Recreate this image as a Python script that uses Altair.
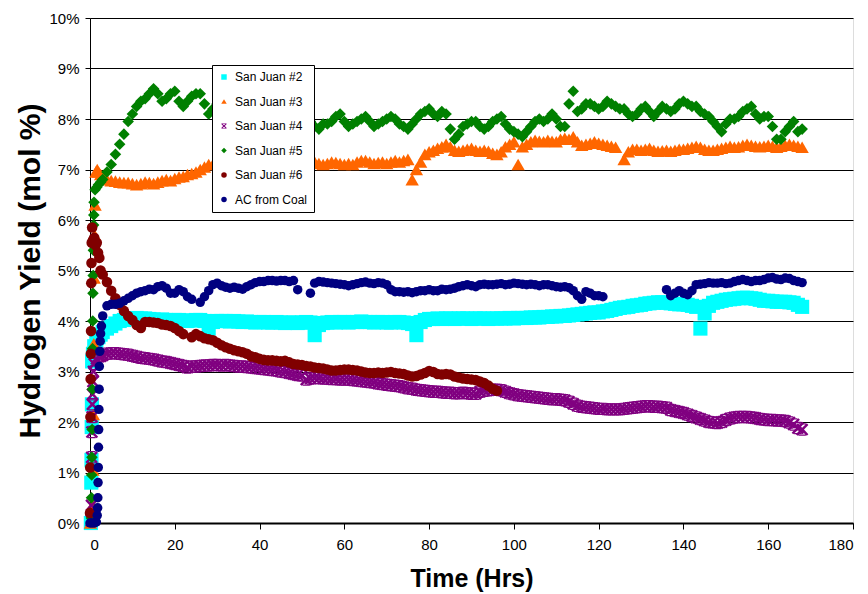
import altair as alt
import pandas as pd

SERIES = ["San Juan #2", "San Juan #3", "San Juan #4", "San Juan #5", "San Juan #6", "AC from Coal"]
COLORS = ["#00FFFF", "#FF6600", "#800080", "#008000", "#800000", "#000080"]
STAR = ("M-1,-0.75L-0.75,-1L0,-0.3L0.75,-1L1,-0.75L0.3,0L1,0.75L0.75,1L0,0.3L-0.75,1L-1,0.75L-0.3,0Z"
        "M-0.6,-1H0.6V-0.8H-0.6Z M-0.6,0.8H0.6V1H-0.6Z")
SHAPES = ["square", "triangle-up", STAR, "diamond", "circle", "circle"]
SIZES = [200, 90, 170, 125, 100, 90]

# start-up readings (hours, mol %)
early_t = {
    "San Juan #2": [0.2, 0.3, 0.35, 0.4, 0.45, 0.5, 0.7, 1.0, 1.5, 2.0, 2.5],
    "San Juan #3": [0.1, 0.5, 0.6, 0.7, 0.8, 0.9, 1.0, 1.1, 1.2, 1.4, 1.7, 2.0, 2.5],
    "San Juan #4": [0.3, 0.35, 0.4, 0.45, 0.5, 0.55, 0.6, 0.7, 0.8, 1.0, 1.5, 2.0, 2.5],
    "San Juan #5": [0.3, 0.35, 0.4, 0.45, 0.5, 0.55, 0.6, 0.65, 0.7, 0.75, 0.8, 0.85, 0.9, 0.95, 1.2, 1.6, 2.0, 2.5],
    "San Juan #6": [0.0, 0.05, 0.1, 0.15, 0.2, 0.25, 0.3, 0.35, 0.4, 0.5, 0.7, 1.0, 1.3, 1.6, 1.9, 2.2, 2.5],
    "AC from Coal": [0.0, 0.5, 1.0, 1.5, 1.7, 1.8, 1.85, 1.9, 1.95, 2.0, 2.05, 2.1, 2.15, 2.2, 2.3, 2.4, 2.5, 2.7],
}
early_v = {
    "San Juan #2": [0.0, 0.8, 1.25, 1.9, 2.35, 3.2, 3.35, 3.5, 3.6, 3.68, 3.73],
    "San Juan #3": [0.0, 0.1, 0.35, 1.05, 2.15, 3.55, 4.85, 5.7, 6.3, 6.95, 7.0, 6.95, 6.9],
    "San Juan #4": [0.05, 0.35, 1.3, 1.8, 2.1, 2.35, 2.55, 2.8, 3.0, 3.15, 3.25, 3.3, 3.3],
    "San Juan #5": [0.1, 0.5, 0.95, 1.3, 1.85, 2.65, 3.45, 4.0, 4.55, 4.9, 5.4, 5.9, 6.1, 6.35, 6.6, 6.65, 6.7, 6.75],
    "San Juan #6": [0.2, 1.1, 2.1, 2.85, 3.35, 3.8, 4.75, 5.15, 5.55, 5.85, 5.6, 5.65, 5.5, 5.55, 5.35, 5.25, 5.0],
    "AC from Coal": [0.0, 0.0, 0.0, 0.02, 0.15, 0.3, 0.5, 0.8, 1.1, 1.5, 1.85, 2.25, 2.65, 3.1, 3.4, 3.6, 3.75, 3.9],
}

# hourly readings from hour 3 onward (None = no data)
sj2 = [3.78, 3.85, 3.9, 3.95, 4.0, 4.02, 4.04, 4.05, 4.06, 4.05,
       4.05, 4.04, 4.03, 4.02, 4.03, 4.02, 4.01, 4.02, 4.02, 4.01,
       4.0, 4.01, 4.02, 4.02, 4.0, 3.85, 3.98, 4.0, 4.0, 4.0,
       3.99, 4.0, 3.99, 3.98, 3.99, 3.98, 3.97, 3.98, 3.98, 3.97,
       3.97, 3.98, 3.97, 3.96, 3.97, 3.97, 3.96, 3.97, 3.98, 3.97,
       3.72, 3.92, 3.96, 3.97, 3.98, 3.97, 3.98, 3.98, 3.97, 3.98,
       3.98, 3.99, 3.98, 3.98, 3.97, 3.98, 3.98, 3.97, 3.97, 3.98,
       3.98, 3.97, 3.96, 3.94, 3.72, 3.98, 4.02, 4.04, 4.04, 4.05,
       4.04, 4.05, 4.05, 4.04, 4.05, 4.05, 4.05, 4.04, 4.05, 4.05,
       4.05, 4.04, 4.05, 4.05, 4.05, 4.05, 4.06, 4.05, 4.06, 4.06,
       4.06, 4.07, 4.07, 4.07, 4.08, 4.08, 4.09, 4.09, 4.1, 4.1,
       4.11, 4.12, 4.13, 4.14, 4.15, 4.16, 4.17, 4.17, 4.19, 4.2,
       4.22, 4.24, 4.26, 4.27, 4.28, 4.3, 4.31, 4.32, 4.34, 4.35,
       4.36, 4.37, 4.37, 4.36, 4.35, 4.34, 4.33, 4.33, 4.32, 4.3,
       4.28, 3.85, 4.15, 4.3, 4.36, 4.38, 4.4, 4.42, 4.43, 4.44,
       4.45, 4.46, 4.46, 4.45, 4.44, 4.42, 4.4, 4.4, 4.39, 4.38,
       4.38, 4.38, 4.37, 4.36, 4.32, 4.28]
sj3 = [6.85, 6.8, 6.78, 6.77, 6.75, 6.74, 6.74, 6.72, 6.7, 6.72,
       6.75, 6.74, 6.72, 6.75, 6.78, 6.8, 6.78, 6.82, 6.85, 6.86,
       6.9, 6.92, 6.95, 7.0, 7.05, 7.1, 7.1, 7.12, 7.15, 7.15,
       7.12, 7.15, 7.18, 7.15, 7.12, 7.15, 7.18, 7.2, 7.18, 7.15,
       7.12, 7.15, 7.18, 7.2, 7.18, 7.15, 7.15, 7.18, 7.2, 7.18,
       7.15, 7.12, 7.1, 7.12, 7.15, 7.14, 7.12, 7.1, 7.12, 7.1,
       7.15, 7.18, 7.18, 7.15, 7.12, 7.14, 7.15, 7.12, 7.15, 7.18,
       7.15, 7.18, 7.2, 6.8, 7.0, 7.15, 7.3, 7.35, 7.38, 7.42,
       7.45, 7.5, 7.45, 7.38, 7.36, 7.38, 7.4, 7.42, 7.38, 7.36,
       7.38, 7.36, 7.32, 7.3, 7.35, 7.45, 7.5, 7.55, 7.1, 7.45,
       7.5, 7.55, 7.58, 7.56, 7.55, 7.58, 7.56, 7.55, 7.6, 7.62,
       7.6, 7.65, 7.55, 7.48, 7.5, 7.52, 7.55, 7.52, 7.5, 7.48,
       7.46, 7.44, None, 7.2, 7.35, 7.4, 7.4, 7.38, 7.4, 7.42,
       7.38, 7.36, 7.37, 7.38, 7.36, 7.38, 7.4, 7.4, 7.42, 7.44,
       7.46, 7.44, 7.4, 7.38, 7.38, 7.4, 7.42, 7.44, 7.46, 7.44,
       7.45, 7.48, 7.5, 7.48, 7.46, 7.45, 7.46, 7.48, 7.46, 7.44,
       7.46, 7.48, 7.5, 7.48, 7.46, 7.44]
sj4 = [3.32, 3.35, 3.36, 3.36, 3.35, 3.34, 3.33, 3.31, 3.29, 3.27,
       3.26, 3.25, 3.24, 3.22, 3.2, 3.19, 3.17, 3.15, 3.13, 3.11,
       3.08, 3.1, 3.1, 3.11, 3.12, 3.12, 3.13, 3.13, 3.12, 3.13,
       3.12, 3.11, 3.1, 3.1, 3.09, 3.08, 3.07, 3.06, 3.05, 3.04,
       3.03, 3.02, 3.0, 2.99, 2.97, 2.95, 2.93, 2.92, 2.84, 2.86,
       2.87, 2.87, 2.86, 2.86, 2.85, 2.85, 2.84, 2.84, 2.84, 2.83,
       2.82, 2.81, 2.8, 2.79, 2.78, 2.76, 2.75, 2.74, 2.73, 2.72,
       2.71, 2.69, 2.67, 2.66, 2.64, 2.63, 2.62, 2.61, 2.6, 2.6,
       2.59, 2.58, 2.58, 2.57, 2.57, 2.58, 2.57, 2.56, 2.56, 2.6,
       2.62, 2.63, 2.64, 2.64, 2.63, 2.6, 2.57, 2.55, 2.53, 2.52,
       2.51, 2.5, 2.49, 2.48, 2.47, 2.46, 2.45, 2.45, 2.44, 2.43,
       2.4, 2.36, 2.32, 2.3, 2.29, 2.28, 2.27, 2.26, 2.26, 2.25,
       2.25, 2.25, 2.25, 2.26, 2.27, 2.28, 2.29, 2.3, 2.31, 2.31,
       2.3, 2.3, 2.29, 2.28, 2.24, 2.22, 2.2, 2.18, 2.15, 2.12,
       2.09, 2.06, 2.03, 2.0, 1.99, 1.98, 2.0, 2.04, 2.07, 2.09,
       2.1, 2.1, 2.1, 2.09, 2.08, 2.06, 2.05, 2.04, 2.04, 2.03,
       2.03, 2.02, 1.99, 1.95, 1.88, 1.85]
sj5 = [6.8, 6.95, 7.1, 7.3, 7.5, 7.7, 7.95, 8.1, 8.25, 8.35,
       8.4, 8.5, 8.6, 8.5, 8.35, 8.4, 8.5, 8.55, 8.35, 8.25,
       8.35, 8.45, 8.5, 8.5, 8.3, 8.1, 8.2, 8.3, 8.35, 8.2,
       8.1, 8.25, 8.3, 8.15, 8.05, 8.2, 8.3, 8.1, 8.0, 8.15,
       8.25, 8.05, 7.95, 8.1, 8.15, 7.95, 7.9, 8.05, 8.0, 7.95,
       7.85, 7.8, 7.9, 7.9, 7.95, 8.05, 8.1, 7.95, 7.85, 7.9,
       7.95, 8.0, 8.05, 7.95, 7.85, 7.9, 7.95, 8.0, 8.05, 8.0,
       7.9, 7.85, 7.8, 7.9, 8.0, 8.1, 8.15, 8.2, 8.1, 8.05,
       8.15, 8.1, 7.8, 7.6, 7.7, 7.85, 7.9, 7.95, 7.95, 7.85,
       7.8, 7.85, 7.95, 8.0, 8.05, 7.9, 7.8, 7.75, 7.7, 7.65,
       7.75, 7.85, 7.95, 8.0, 7.95, 8.0, 8.1, 8.0, 7.85, 7.85,
       8.3, 8.55, 8.15, 8.2, 8.3, 8.3, 8.25, 8.2, 8.25, 8.35,
       8.3, 8.25, 8.2, 8.2, 8.1, 8.05, 8.1, 8.2, 8.25, 8.15,
       8.05, 8.15, 8.25, 8.2, 8.15, 8.2, 8.3, 8.35, 8.3, 8.25,
       8.25, 8.15, 8.1, 8.05, 7.95, 7.85, 7.75, 7.9, 8.0, 8.0,
       8.05, 8.15, 8.2, 8.25, 8.1, 8.0, 8.05, 8.05, 7.85, 7.6,
       7.6, 7.75, 7.85, 7.95, 7.75, 7.8]
sj6 = [4.92, 4.77, 4.6, 4.45, 4.32, 4.2, 4.1, 4.02, 3.92, 3.86,
       3.98, 3.98, 3.97, 3.96, 3.93, 3.92, 3.9, 3.86, 3.8, 3.74,
       None, 3.68, 3.74, 3.7, 3.66, 3.64, 3.62, 3.57, 3.52, 3.48,
       3.45, 3.42, 3.4, 3.38, 3.35, 3.3, 3.28, 3.25, 3.23, 3.22,
       3.22, 3.21, 3.2, 3.21, 3.18, 3.15, 3.14, 3.13, 3.11, 3.1,
       3.08, 3.07, 3.06, 3.04, 3.02, 3.02, 3.03, 3.04, 3.04, 3.03,
       3.02, 3.0, 2.98, 2.97, 2.97, 2.98, 2.97, 2.98, 2.99, 2.97,
       2.96, 2.95, 2.92, 2.9, 2.91, 2.94, 2.97, 3.01, 2.99, 2.95,
       2.94, 2.95, 2.94, 2.9, 2.88, 2.86, 2.85, 2.84, 2.83, 2.8,
       2.77, 2.72, 2.66, 2.62]
ac = [4.1, 4.3, 4.33, 4.33, 4.35, 4.4, 4.45, 4.5, 4.55, 4.58,
      4.6, 4.63, 4.62, 4.68, 4.7, 4.65, 4.55, 4.55, 4.62, 4.58,
      4.48, 4.43, None, 4.37, 4.48, 4.6, 4.72, 4.75, 4.7, 4.67,
      4.65, 4.67, 4.65, 4.63, 4.68, 4.72, 4.76, 4.78, 4.78, 4.8,
      4.8, 4.79, 4.8, 4.8, 4.78, 4.8, 4.62, None, None, 4.55,
      4.75, 4.78, 4.77, 4.76, 4.75, 4.74, 4.73, 4.72, 4.7, 4.72,
      4.74, 4.76, 4.77, 4.75, 4.74, 4.76, 4.75, 4.72, 4.62, 4.58,
      4.58, 4.57, 4.58, 4.56, 4.58, 4.6, 4.6, 4.62, 4.6, 4.6,
      4.63, 4.62, 4.63, 4.65, 4.68, 4.7, 4.72, 4.7, 4.68, 4.72,
      4.73, 4.72, 4.72, 4.73, 4.74, 4.72, 4.73, 4.75, 4.74, 4.73,
      4.72, 4.73, 4.72, 4.7, 4.72, 4.72, 4.7, 4.68, 4.67, 4.68,
      4.66, 4.6, 4.5, 4.43, 4.58, 4.55, 4.5, 4.5, 4.48, None,
      None, None, None, None, None, None, None, None, None, None,
      None, None, None, 4.62, 4.5, 4.55, 4.6, 4.55, 4.52, 4.6,
      4.72, 4.73, 4.74, 4.76, 4.75, 4.75, 4.76, 4.74, 4.75, 4.78,
      4.8, 4.82, 4.8, 4.78, 4.8, 4.8, 4.82, 4.85, 4.86, 4.83,
      4.82, 4.85, 4.84, 4.8, 4.78, 4.76]

hourly = {"San Juan #2": sj2, "San Juan #3": sj3, "San Juan #4": sj4,
          "San Juan #5": sj5, "San Juan #6": sj6, "AC from Coal": ac}
FIRST_HOUR = 3

rows = []
for s in SERIES:
    for t, v in zip(early_t[s], early_v[s]):
        rows.append({"series": s, "marker": s, "order": SERIES.index(s), "t": t, "v": v})
    for i, v in enumerate(hourly[s]):
        if v is not None:
            rows.append({"series": s, "marker": s, "order": SERIES.index(s), "t": FIRST_HOUR + i, "v": v})
df = pd.DataFrame(rows)
# legend-only rows: one per series, no position, so nothing is drawn
df_leg = pd.DataFrame({"series": SERIES, "t": [None] * 6, "v": [None] * 6})

FONT = "Liberation Sans"

x_enc = alt.X("t:Q", title="Time (Hrs)",
              scale=alt.Scale(domain=[0, 180], nice=False, zero=False),
              axis=alt.Axis(values=list(range(0, 181, 20)), grid=False, tickSize=6,
                            labelPadding=8, labelFont=FONT, labelFontSize=15, labelColor="black",
                            domainColor="black", domainWidth=2, tickColor="black",
                            titleFont=FONT, titleFontSize=25, titleFontWeight="bold",
                            titleColor="black", titleX=381.5, titleY=55,
                            titleBaseline="middle", titleAlign="center"))
y_enc = alt.Y("v:Q", title="Hydrogen Yield (mol %)",
              scale=alt.Scale(domain=[0, 10], nice=False),
              axis=alt.Axis(values=list(range(0, 11)), grid=True, gridColor="black",
                            gridWidth=1, gridOpacity=1, tickSize=5, labelPadding=6,
                            labelExpr="datum.value + '%'", labelFont=FONT, labelFontSize=15,
                            labelColor="black", domainColor="black", tickColor="black",
                            titleFont=FONT, titleFontSize=30, titleFontWeight="bold",
                            titleColor="black", titleX=-60, titleY=252.5,
                            titleBaseline="middle", titleAlign="center"))

points = alt.Chart(df).mark_point(filled=True, opacity=1).encode(
    x=x_enc, y=y_enc,
    color=alt.Color("series:N", scale=alt.Scale(domain=SERIES, range=COLORS), legend=None),
    shape=alt.Shape("series:N", scale=alt.Scale(domain=SERIES, range=SHAPES), legend=None),
    size=alt.Size("marker:N", scale=alt.Scale(domain=SERIES, range=SIZES), legend=None),
    order=alt.Order("order:Q"),
)

legend = alt.Legend(title=None, orient="none", legendX=122, legendY=47,
                    strokeColor="black", fillColor="white", padding=6,
                    symbolSize=30, symbolOpacity=1, labelFont=FONT, labelFontSize=12,
                    labelColor="black", rowPadding=12.5, labelOffset=5, symbolStrokeWidth=0)

legend_layer = alt.Chart(df_leg).mark_point(filled=True, size=30, opacity=1).encode(
    x=alt.X("t:Q"), y=alt.Y("v:Q"),
    color=alt.Color("series:N", scale=alt.Scale(domain=SERIES, range=COLORS), legend=legend),
    shape=alt.Shape("series:N", scale=alt.Scale(domain=SERIES, range=SHAPES), legend=legend),
)

chart = alt.layer(points, legend_layer).resolve_scale(
    color="independent", shape="independent"
).properties(
    width=763, height=505,
    autosize=alt.AutoSizeParams(type="none"),
    padding={"left": 82, "top": 10, "right": 5, "bottom": 70},
).configure_view(stroke="#333333", strokeWidth=1.5).configure(background="white")

chart.save("out.html", embed_options={"renderer": "svg", "actions": False})
